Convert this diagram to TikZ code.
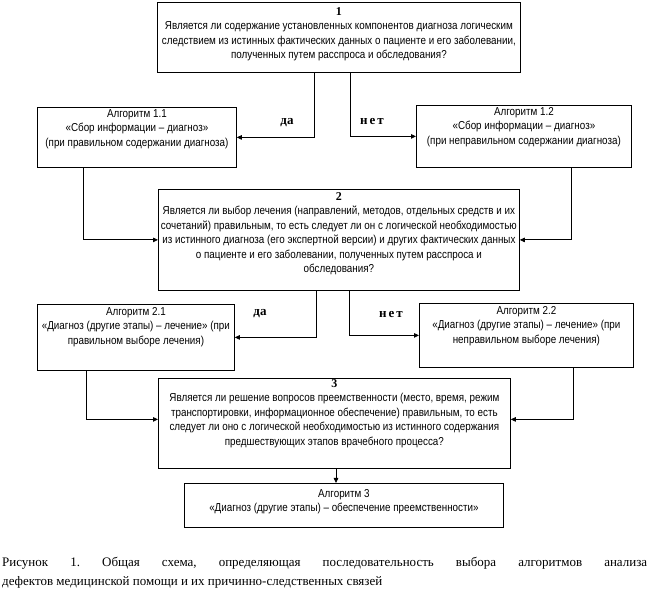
\documentclass[tikz,border=0pt]{standalone}
\usepackage{fontspec}
\setmainfont{Liberation Serif}
\newfontfamily\nar[FakeStretch=0.855]{Liberation Sans}
\newfontfamily\labsp[LetterSpace=15]{Liberation Serif}
\usetikzlibrary{arrows.meta,calc}
\begin{document}
\begin{tikzpicture}[x=1pt,y=-1pt,
  box/.style={draw, line width=0.8pt, inner sep=0, anchor=north west},
  txt/.style={anchor=north, inner sep=0, align=center, font=\nar\fontsize{11.5}{14.5}\selectfont},
  arr/.style={line width=0.8pt, -{Triangle[length=5pt,width=4.5pt]}},
  lab/.style={font=\rmfamily\bfseries\fontsize{13}{13}\selectfont, inner sep=0},
  labn/.style={font=\labsp\bfseries\fontsize{13}{13}\selectfont, inner sep=0}]
\useasboundingbox (0,0) rectangle (649,609);
\newcommand\numtxt[1]{{\rmfamily\bfseries\fontsize{12}{12}\selectfont #1}}
% boxes
\node[box, minimum width=363pt, minimum height=70pt] (b1) at (157,2) {};
\node[box, minimum width=199pt, minimum height=60pt] (a11) at (37,107) {};
\node[box, minimum width=215pt, minimum height=62pt] (a12) at (416,105) {};
\node[box, minimum width=361pt, minimum height=101pt] (b2) at (158,189) {};
\node[box, minimum width=197pt, minimum height=66pt] (a21) at (37,304) {};
\node[box, minimum width=214pt, minimum height=64pt] (a22) at (419,303) {};
\node[box, minimum width=352pt, minimum height=90pt] (b3) at (158,378) {};
\node[box, minimum width=319pt, minimum height=44pt] (a3) at (184,483) {};
% texts
\node[txt] (t1) at ($(b1.north)+(0,5)$) {\numtxt{1}\\Является ли содержание установленных компонентов диагноза логическим\\следствием из истинных фактических данных о пациенте и его заболевании,\\полученных путем расспроса и обследования?};
\node[txt] (t11) at ($(a11.north)+(0,2)$) {Алгоритм 1.1\\«Сбор информации – диагноз»\\(при правильном содержании диагноза)};
\node[txt] (t12) at ($(a12.north)+(0,2)$) {Алгоритм 1.2\\«Сбор информации – диагноз»\\(при неправильном содержании диагноза)};
\node[txt] (t2) at ($(b2.north)+(0,3)$) {\numtxt{2}\\Является ли выбор лечения (направлений, методов, отдельных средств и их\\сочетаний) правильным, то есть следует ли он с логической необходимостью\\из истинного диагноза (его экспертной версии) и других фактических данных\\о пациенте и его заболевании, полученных путем расспроса и\\обследования?};
\node[txt] (t21) at ($(a21.north)+(0,3)$) {Алгоритм 2.1\\«Диагноз (другие этапы) – лечение» (при\\правильном выборе лечения)};
\node[txt] (t22) at ($(a22.north)+(0,3)$) {Алгоритм 2.2\\«Диагноз (другие этапы) – лечение» (при\\неправильном выборе лечения)};
\node[txt] (t3) at ($(b3.north)+(0,1)$) {\numtxt{3}\\Является ли решение вопросов преемственности (место, время, режим\\транспортировки, информационное обеспечение) правильным, то есть\\следует ли оно с логической необходимостью из истинного содержания\\предшествующих этапов врачебного процесса?};
\node[txt] (t4) at ($(a3.north)+(0,6)$) {Алгоритм 3\\«Диагноз (другие этапы) – обеспечение преемственности»};
% connectors
\draw[arr] ($(b1.south west)+(157,0)$) |- (a11.east);
\draw[arr] ($(b1.south west)+(193,0)$) |- (a12.west);
\draw[arr] ($(a11.south west)+(46,0)$) |- (b2.west);
\draw[arr] ($(a12.south west)+(155,0)$) |- (b2.east);
\draw[arr] ($(b2.south west)+(158,0)$) |- (a21.east);
\draw[arr] ($(b2.south west)+(191,0)$) |- (a22.west);
\draw[arr] ($(a21.south west)+(49,0)$) |- ($(b3.west)+(0,-4)$);
\draw[arr] ($(a22.south west)+(154,0)$) |- ($(b3.east)+(0,-4)$);
\coordinate (c3) at ($(b3.south west)+(178,0)$);
\draw[arr] (c3) -- (c3 |- a3.north);
% labels
\node[lab] (l1) at (287,123) {да};
\node[labn] (l2) at (372,122) {нет};
\node[lab] (l3) at (260,314) {да};
\node[labn] (l4) at (391,315) {нет};
% caption
\node[anchor=north west, inner sep=0, text width=645pt, align=justify, font=\rmfamily\fontsize{13}{18.5}\selectfont\frenchspacing] (cap) at (2,557) {Рисунок 1. Общая схема, определяющая последовательность выбора алгоритмов анализа\linebreak дефектов медицинской помощи и их причинно-следственных связей};
\end{tikzpicture}
\end{document}
